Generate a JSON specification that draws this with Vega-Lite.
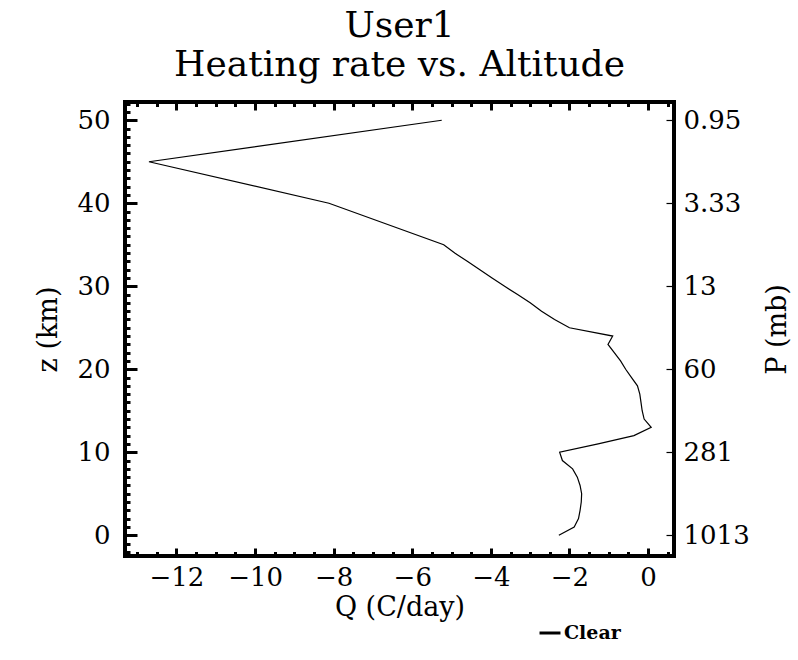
{
  "$schema": "https://vega.github.io/schema/vega-lite/v6.json",
  "autosize": {"type": "none"},
  "padding": {"left": 125, "top": 102, "right": 124, "bottom": 104},
  "width": 549,
  "height": 454,
  "title": {
    "text": ["User1", "Heating rate vs. Altitude"],
    "anchor": "middle",
    "frame": "group",
    "font": "DejaVu Serif",
    "fontSize": 36,
    "fontWeight": "normal",
    "lineHeight": 39,
    "offset": 17,
    "color": "black"
  },
  "config": {
    "view": {"stroke": "black", "strokeWidth": 4},
    "axis": {
      "grid": false,
      "domain": false,
      "labelFont": "DejaVu Serif",
      "labelFontSize": 26,
      "labelColor": "black",
      "titleFont": "DejaVu Serif",
      "titleFontSize": 27,
      "titleFontWeight": "normal",
      "titleColor": "black",
      "tickColor": "black",
      "labelFlush": false,
      "labelOverlap": false
    }
  },
  "data": {
    "values": [
      {"z": 0, "q": -2.27, "series": "Clear"},
      {"z": 1, "q": -1.88, "series": "Clear"},
      {"z": 2, "q": -1.77, "series": "Clear"},
      {"z": 3, "q": -1.73, "series": "Clear"},
      {"z": 4, "q": -1.70, "series": "Clear"},
      {"z": 5, "q": -1.69, "series": "Clear"},
      {"z": 6, "q": -1.73, "series": "Clear"},
      {"z": 7, "q": -1.80, "series": "Clear"},
      {"z": 8, "q": -1.92, "series": "Clear"},
      {"z": 9, "q": -2.18, "series": "Clear"},
      {"z": 10, "q": -2.25, "series": "Clear"},
      {"z": 11, "q": -1.27, "series": "Clear"},
      {"z": 12, "q": -0.36, "series": "Clear"},
      {"z": 13, "q": 0.08, "series": "Clear"},
      {"z": 14, "q": -0.10, "series": "Clear"},
      {"z": 15, "q": -0.15, "series": "Clear"},
      {"z": 16, "q": -0.18, "series": "Clear"},
      {"z": 17, "q": -0.21, "series": "Clear"},
      {"z": 18, "q": -0.27, "series": "Clear"},
      {"z": 19, "q": -0.42, "series": "Clear"},
      {"z": 20, "q": -0.57, "series": "Clear"},
      {"z": 21, "q": -0.70, "series": "Clear"},
      {"z": 22, "q": -0.86, "series": "Clear"},
      {"z": 23, "q": -1.02, "series": "Clear"},
      {"z": 24, "q": -0.90, "series": "Clear"},
      {"z": 25, "q": -2.00, "series": "Clear"},
      {"z": 26, "q": -2.38, "series": "Clear"},
      {"z": 27, "q": -2.71, "series": "Clear"},
      {"z": 28, "q": -3.00, "series": "Clear"},
      {"z": 29, "q": -3.32, "series": "Clear"},
      {"z": 30, "q": -3.65, "series": "Clear"},
      {"z": 31, "q": -3.97, "series": "Clear"},
      {"z": 32, "q": -4.28, "series": "Clear"},
      {"z": 33, "q": -4.60, "series": "Clear"},
      {"z": 34, "q": -4.92, "series": "Clear"},
      {"z": 35, "q": -5.20, "series": "Clear"},
      {"z": 40, "q": -8.12, "series": "Clear"},
      {"z": 45, "q": -12.70, "series": "Clear"},
      {"z": 50, "q": -5.25, "series": "Clear"}
    ]
  },
  "layer": [
    {
      "mark": {"type": "line", "strokeWidth": 1.2, "clip": true},
      "encoding": {
        "x": {
          "field": "q", "type": "quantitative",
          "scale": {"domain": [-13.31, 0.66], "nice": false, "zero": false},
          "axis": {"orient": "bottom", "values": [-12, -10, -8, -6, -4, -2, 0], "ticks": false, "labelPadding": 8, "title": "Q (C/day)", "titlePadding": 4}
        },
        "y": {
          "field": "z", "type": "quantitative",
          "scale": {"domain": [-2.5, 52.2], "nice": false, "zero": false},
          "axis": {"orient": "left", "values": [0, 10, 20, 30, 40, 50], "ticks": false, "labelPadding": 15, "title": "z (km)", "titlePadding": 14}
        },
        "order": {"field": "z", "type": "quantitative"},
        "color": {
          "field": "series", "type": "nominal",
          "scale": {"range": ["black"]},
          "legend": {
            "title": null, "orient": "none", "legendX": 413, "legendY": 519,
            "symbolType": "stroke", "symbolStrokeWidth": 3, "symbolSize": 440,
            "labelFont": "DejaVu Serif", "labelFontSize": 19, "labelFontWeight": "bold",
            "labelColor": "black", "labelOffset": 2, "padding": 0
          }
        }
      }
    },
    {
      "mark": {"type": "line", "opacity": 0},
      "encoding": {
        "x": {"field": "q", "type": "quantitative",
          "axis": {"orient": "bottom", "values": [-12, -10, -8, -6, -4, -2, 0], "labels": false, "title": null, "tickSize": -8, "tickWidth": 3}},
        "y": {"field": "z", "type": "quantitative",
          "axis": {"orient": "left", "values": [0, 10, 20, 30, 40, 50], "labels": false, "title": null, "tickSize": -12, "tickWidth": 3}},
        "order": {"field": "z", "type": "quantitative"}
      }
    },
    {
      "mark": {"type": "line", "opacity": 0},
      "encoding": {
        "x": {"field": "q", "type": "quantitative",
          "axis": {"orient": "bottom", "values": [-13, -12.5, -11.5, -11, -10.5, -9.5, -9, -8.5, -7.5, -7, -6.5, -5.5, -5, -4.5, -3.5, -3, -2.5, -1.5, -1, -0.5, 0.5], "labels": false, "title": null, "tickSize": -4.5, "tickWidth": 3}},
        "y": {"field": "z", "type": "quantitative",
          "axis": {"orient": "left", "values": [-2, -1, 1, 2, 3, 4, 5, 6, 7, 8, 9, 11, 12, 13, 14, 15, 16, 17, 18, 19, 21, 22, 23, 24, 25, 26, 27, 28, 29, 31, 32, 33, 34, 35, 36, 37, 38, 39, 41, 42, 43, 44, 45, 46, 47, 48, 49, 51, 52], "labels": false, "title": null, "tickSize": -5, "tickWidth": 3}},
        "order": {"field": "z", "type": "quantitative"}
      }
    },
    {
      "mark": {"type": "line", "opacity": 0},
      "encoding": {
        "x": {"field": "q", "type": "quantitative",
          "axis": {"orient": "top", "values": [-12, -10, -8, -6, -4, -2, 0], "labels": false, "title": null, "tickSize": -8, "tickWidth": 3}},
        "y": {"field": "z", "type": "quantitative",
          "axis": {"orient": "right", "values": [0, 10, 20, 30, 40, 50], "ticks": false, "labelPadding": 9, "labelAlign": "left",
            "labelExpr": "datum.value == 50 ? '0.95' : datum.value == 40 ? '3.33' : datum.value == 30 ? '13' : datum.value == 20 ? '60' : datum.value == 10 ? '281' : '1013'",
            "title": "P (mb)", "titleAngle": 270, "titlePadding": 42}},
        "order": {"field": "z", "type": "quantitative"}
      }
    },
    {
      "mark": {"type": "line", "opacity": 0},
      "encoding": {
        "x": {"field": "q", "type": "quantitative",
          "axis": {"orient": "top", "values": [-13, -12.5, -11.5, -11, -10.5, -9.5, -9, -8.5, -7.5, -7, -6.5, -5.5, -5, -4.5, -3.5, -3, -2.5, -1.5, -1, -0.5, 0.5], "labels": false, "title": null, "tickSize": -4.5, "tickWidth": 3}},
        "y": {"field": "z", "type": "quantitative",
          "axis": {"orient": "right", "values": [0, 10, 20, 30, 40, 50], "labels": false, "title": null, "tickSize": -8, "tickWidth": 1.2}},
        "order": {"field": "z", "type": "quantitative"}
      }
    }
  ],
  "resolve": {"axis": {"x": "independent", "y": "independent"}}
}
